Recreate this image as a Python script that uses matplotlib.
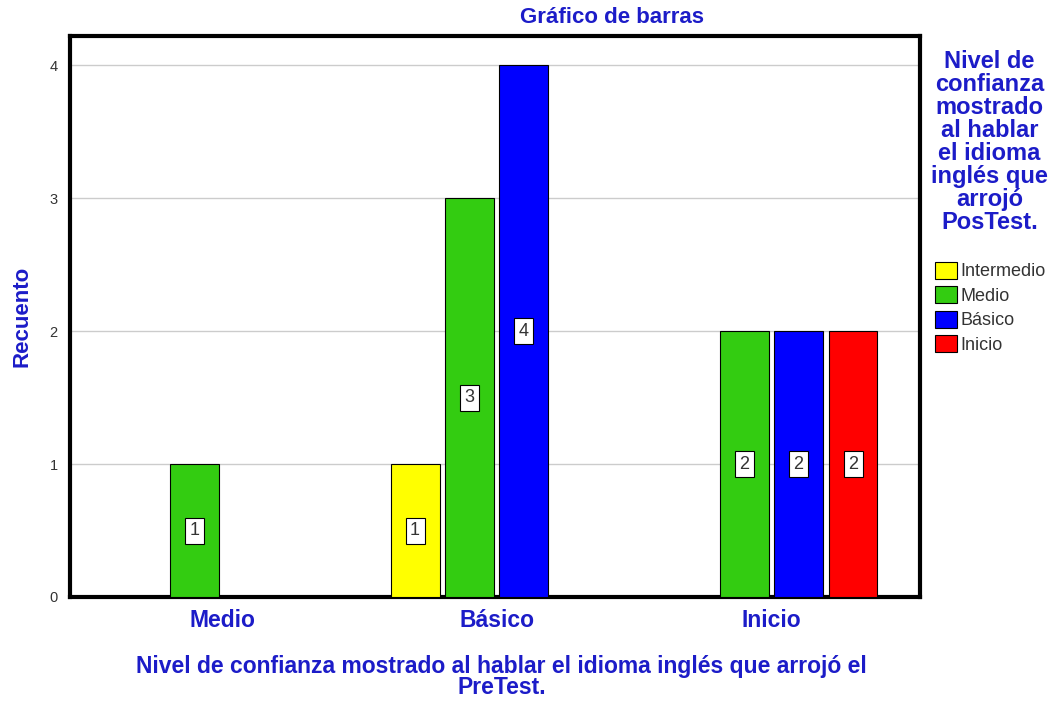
import numpy as np
import matplotlib
matplotlib.use("Agg")
import matplotlib.pyplot as plt
from matplotlib.patches import Patch

plt.rcParams["font.family"] = ["Liberation Sans", "DejaVu Sans"]

categories = ["Medio", "Básico", "Inicio"]
series_names = ["Intermedio", "Medio", "Básico", "Inicio"]
counts = {
    "Intermedio": [0, 1, 0],
    "Medio": [1, 3, 2],
    "Básico": [0, 4, 2],
    "Inicio": [0, 0, 2],
}
colors = ["#FFFF00", "#33CC11", "#0000FF", "#FF0000"]
blue_txt = "#1C1CC8"

fig = plt.figure(figsize=(10.56, 7.08), dpi=100)
ax = fig.add_axes([0.0663, 0.1568, 0.8047, 0.7922])

slot = 0.198
width = 0.178
x = np.arange(len(categories))
for i, (name, col) in enumerate(zip(series_names, colors)):
    offs = (i - 1.5) * slot
    for xi, v in zip(x, counts[name]):
        if v == 0:
            continue
        ax.bar(xi + offs, v, width=width, color=col, edgecolor="black",
               linewidth=0.8, zorder=3)
        ax.text(xi + offs, v / 2, str(v), ha="center", va="center",
                fontsize=13, color="#333333", zorder=4,
                bbox=dict(boxstyle="square,pad=0.25", fc="white",
                          ec="black", lw=0.8))

ax.set_xlim(-0.553, 2.54)
ax.set_ylim(0, 4.22)
ax.set_yticks([0, 1, 2, 3, 4])
ax.yaxis.grid(True, color="#CCCCCC", linewidth=1, zorder=0)
ax.set_axisbelow(True)
ax.set_xticks(x)
ax.set_xticklabels(categories, fontsize=16.5, fontweight="bold", color=blue_txt)
ax.tick_params(axis="y", length=0, labelsize=10.5, colors="#333333", pad=9)
ax.tick_params(axis="x", length=0, pad=9)
for s in ax.spines.values():
    s.set_linewidth(3)
    s.set_color("black")

ax.set_ylabel("Recuento", fontsize=16, fontweight="bold", color=blue_txt,
              labelpad=12)
fig.text(0.475, 0.044,
         "Nivel de confianza mostrado al hablar el idioma inglés que arrojó el\nPreTest.",
         ha="center", va="center", fontsize=16.5, fontweight="bold",
         color=blue_txt, linespacing=0.88)
fig.text(0.58, 0.975, "Gráfico de barras", ha="center", va="center",
         fontsize=16, fontweight="bold", color=blue_txt)

fig.text(0.937, 0.8,
         "Nivel de\nconfianza\nmostrado\nal hablar\nel idioma\ninglés que\narrojó\nPosTest.",
         ha="center", va="center", fontsize=17, fontweight="bold",
         color=blue_txt, linespacing=1.0)

handles = [Patch(facecolor=c, edgecolor="black", linewidth=0.8, label=n)
           for n, c in zip(series_names, colors)]
fig.legend(handles=handles, loc="upper left", bbox_to_anchor=(0.877, 0.643),
           frameon=False, fontsize=13, handlelength=1.2, handleheight=1.05,
           handletextpad=0.2, labelspacing=0.33, borderpad=0,
           labelcolor="#333333")

fig.savefig("out.png", dpi=100)
